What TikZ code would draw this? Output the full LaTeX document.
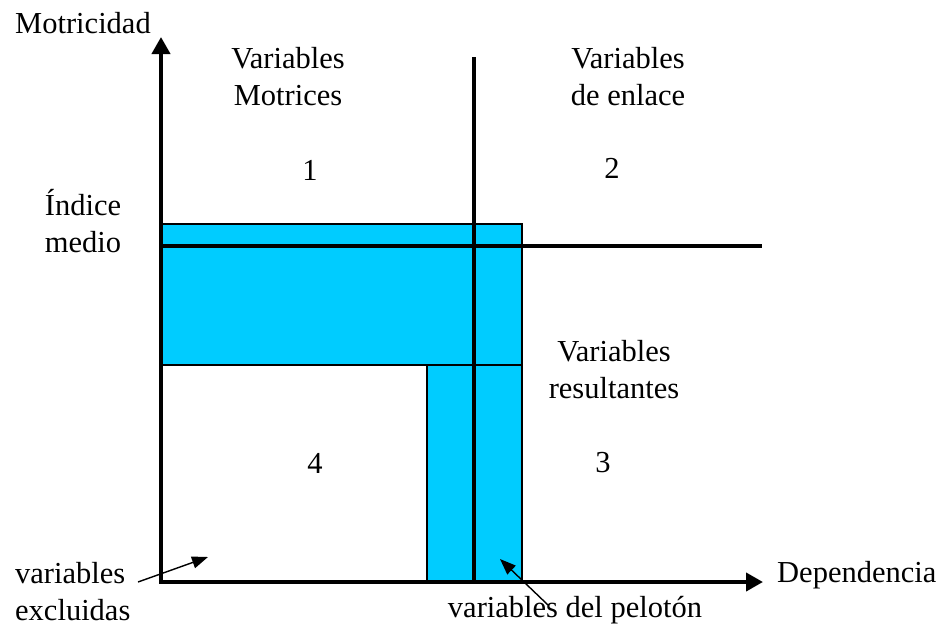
\documentclass[tikz,border=0pt]{standalone}
\usepackage{fontspec}
\setmainfont{Liberation Serif}
\usetikzlibrary{arrows.meta,positioning}
\definecolor{zoneblue}{RGB}{0,204,255}

\begin{document}
\begin{tikzpicture}[
    x=1pt,y=-1pt,
    lbl/.style={align=center,anchor=base,inner sep=0pt,
                font=\fontsize{30.5}{36.5}\selectfont},
    zone/.style={fill=zoneblue,draw=black,line width=1.4pt},
    axis/.style={line width=4pt,-{Triangle[length=17pt,width=18pt]}},
    midline/.style={line width=4pt},
    pointer/.style={line width=1.4pt,-{Triangle[length=16pt,width=12pt]}}]
\useasboundingbox (0,0) rectangle (945,627);
\coordinate (O)    at (161,582);
\coordinate (Ytop) at (161,37);
\coordinate (Xend) at (763,582);
\draw[zone] (161,224) rectangle (522,365);
\draw[zone] (427,365) rectangle (522,582);
\draw[midline] (474,57) -- (474,582);
\draw[midline] (161,246) -- (762,246);
\draw[axis] ([yshift=2pt]O) -- (Ytop);
\draw[axis] ([xshift=-2pt]O) -- (Xend);
\node (mot)  [lbl] at (83,33)   {Motricidad};
\node (dep)  [lbl,anchor=base west] at (777,582) {Dependencia};
\node (idx)  [lbl] at (83,252)  {Índice\\medio};
\node (q1t)  [lbl] at (288,105) {Variables\\Motrices};
\node (q2t)  [lbl] at (628,105) {Variables\\de enlace};
\node (q3t)  [lbl] at (614,398) {Variables\\resultantes};
\node (q1)   [lbl] at (310,180) {1};
\node (q2)   [lbl] at (612,178) {2};
\node (q3)   [lbl] at (603,472) {3};
\node (q4)   [lbl] at (315,473) {4};
\node (excl) [lbl,align=left,anchor=base west] at (15,620) {variables\\excluidas};
\node (pel)  [lbl] at (575,617) {variables del pelotón};
\coordinate (exclFrom) at (138,582);
\coordinate (exclTip)  at (208,557);
\coordinate (pelFrom)  at (548,605);
\coordinate (pelTip)   at (500,559);
\draw[pointer] (exclFrom) -- (exclTip);
\draw[pointer] (pelFrom) -- (pelTip);
\end{tikzpicture}
\end{document}
